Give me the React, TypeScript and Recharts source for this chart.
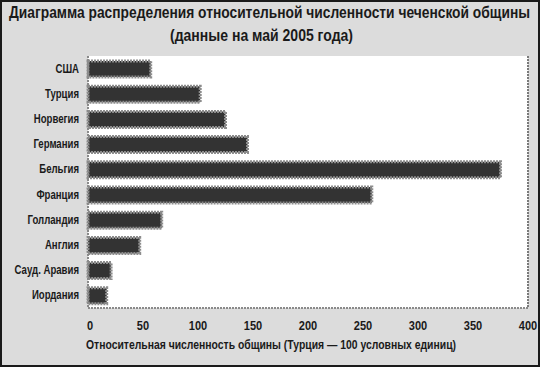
import React from 'react';
import { BarChart, Bar, XAxis, YAxis, CartesianGrid, Customized } from 'recharts';

const countries = ['США', 'Турция', 'Норвегия', 'Германия', 'Бельгия', 'Франция', 'Голландия', 'Англия', 'Сауд. Аравия', 'Иордания'];
const values = [57, 102, 125, 145, 375, 258, 67, 47, 21, 17];
const xTicks = [0, 50, 100, 150, 200, 250, 300, 350, 400];
const titleLines = ['Диаграмма распределения относительной численности чеченской общины', '(данные на май 2005 года)'];
const xAxisTitle = 'Относительная численность общины (Турция — 100 условных единиц)';

const data = countries.map((c, i) => ({ country: c, value: values[i] }));

const FONT = "'Liberation Sans', Arial, sans-serif";
const SQUEEZE = 0.8;

const Titles = () => (
  <g>
    <text x={9} y={18} textLength={521} lengthAdjust="spacingAndGlyphs" fontFamily={FONT} fontWeight="bold" fontSize={17} fill="#1a1a1a">{titleLines[0]}</text>
    <text x={170} y={41} textLength={183} lengthAdjust="spacingAndGlyphs" fontFamily={FONT} fontWeight="bold" fontSize={17} fill="#1a1a1a">{titleLines[1]}</text>
    <text x={86} y={349} textLength={370} lengthAdjust="spacingAndGlyphs" fontFamily={FONT} fontWeight="bold" fontSize={12} fill="#1a1a1a">{xAxisTitle}</text>
  </g>
);

const YTick = (props: any) => {
  const { x, y, payload } = props;
  return (
    <g transform={`translate(${x - 7},${y})`}>
      <text transform={`scale(${SQUEEZE},1)`} textAnchor="end" dy={4} fontFamily={FONT} fontWeight="bold" fontSize={12} fill="#1a1a1a">
        {payload.value}
      </text>
    </g>
  );
};

const XTick = (props: any) => {
  const { x, payload } = props;
  return (
    <g transform={`translate(${x + (payload.value === 0 ? 2 : 0)},330)`}>
      <text transform={`scale(${SQUEEZE + 0.05},1)`} textAnchor="middle" fontFamily={FONT} fontWeight="bold" fontSize={13} fill="#1a1a1a">
        {payload.value}
      </text>
    </g>
  );
};

export default function App() {
  return (
    <div style={{ position: 'absolute', left: 0, top: 0, width: 540, height: 367, background: '#dcdcdc' }}>
      <BarChart
        width={540}
        height={367}
        data={data}
        layout="vertical"
        margin={{ top: 56, right: 12, bottom: 0, left: 0 }}
        barCategoryGap={4}
      >
        <CartesianGrid horizontal={false} vertical={true} fill="#ffffff" stroke="#7a7a7a" strokeWidth={2} strokeDasharray="2 1" />
        <XAxis
          type="number"
          xAxisId="bottom"
          domain={[0, 400]}
          ticks={xTicks}
          interval={0}
          height={59}
          tickLine={false}
          axisLine={{ stroke: '#8a8a8a', strokeWidth: 2, strokeDasharray: '2 1' }}
          tick={<XTick />}
        />
        <XAxis
          type="number"
          xAxisId="top"
          orientation="top"
          domain={[0, 400]}
          height={0}
          tick={false}
          tickLine={false}
          axisLine={{ stroke: '#000', strokeWidth: 3 }}
        />
        <YAxis
          type="category"
          dataKey="country"
          width={88}
          tickLine={false}
          tickSize={0}
          axisLine={{ stroke: '#8a8a8a', strokeWidth: 2, strokeDasharray: '2 1' }}
          tick={<YTick />}
          interval={0}
        />
        <Bar
          dataKey="value"
          xAxisId="bottom"
          fill="#333333"
          stroke="#8c8c8c"
          strokeWidth={3}
          strokeDasharray="2 1"
          barSize={16}
          isAnimationActive={false}
        />
        <Customized component={Titles} />
      </BarChart>
      <div style={{ position: 'absolute', left: 0, top: 0, width: 540, height: 367, boxSizing: 'border-box', border: '2px solid #1a1a1a', pointerEvents: 'none' }} />
    </div>
  );
}
